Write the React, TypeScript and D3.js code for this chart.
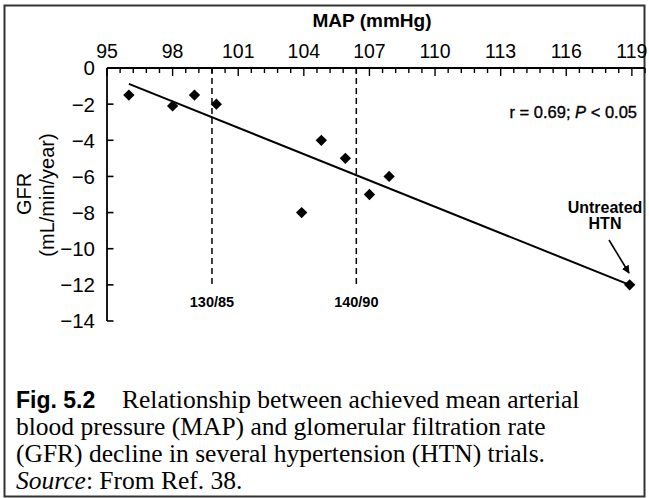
import React from "react";
import * as d3 from "d3";

// ---- data ----
const mapValues = [96, 98, 99, 100, 103.9, 104.8, 105.9, 107, 107.9, 118.9];
const gfrValues = [-1.5, -2.1, -1.5, -2, -8, -4, -5, -7, -6, -12];
const xTickLabels = [95, 98, 101, 104, 107, 110, 113, 116, 119];
const yTickLabels = [0, -2, -4, -6, -8, -10, -12, -14];
const thresholdLabels = ["130/85", "140/90"];
const thresholdMap = [99.8, 106.4];
const regressionMap = [96, 118.9];
const regressionGfr = [-0.88, -12.0];

const W = 649;
const H = 498;

export default function App() {
  const x = d3.scaleLinear().domain([95, 119.6]).range([107, 645]);
  const y = d3.scaleLinear().domain([0, -14]).range([68, 321]);
  const minor = d3.range(0, 42).map((i) => 95 + i * 0.6);
  const sans = "'Liberation Sans', Arial, Helvetica, sans-serif";
  const serif = "'Liberation Serif', 'Times New Roman', serif";
  const diamond = d3.symbol().type(d3.symbolSquare).size(64)() as string;
  const line = d3
    .line<number>()
    .x((_, i) => x(regressionMap[i]))
    .y((d) => y(d));

  return (
    <svg
      width={W}
      height={H}
      style={{ position: "absolute", left: 0, top: 0, background: "#fff" }}
    >
      <defs>
        <marker
          id="ah"
          viewBox="0 0 10 10"
          refX="9"
          refY="5"
          markerWidth="5"
          markerHeight="5"
          orient="auto"
        >
          <path d="M0,0 L10,5 L0,10 z" fill="#000" />
        </marker>
      </defs>
      <rect x={4.5} y={5.5} width={640} height={491} fill="none" stroke="#333" strokeWidth={2} />

      {/* top axis */}
      <text x={372} y={27} textAnchor="middle" fontFamily={sans} fontWeight="bold" fontSize={19}>
        MAP (mmHg)
      </text>
      <line x1={x(95)} x2={x(119.6)} y1={y(0)} y2={y(0)} stroke="#000" strokeWidth={1.8} />
      {minor.map((v, i) => (
        <line
          key={i}
          x1={x(v)}
          x2={x(v)}
          y1={y(0)}
          y2={y(0) + (i % 5 === 0 ? 8 : 5)}
          stroke="#000"
          strokeWidth={1.4}
        />
      ))}
      {xTickLabels.map((v) => (
        <text key={v} x={x(v)} y={58} textAnchor="middle" fontFamily={sans} fontSize={19.5}>
          {v}
        </text>
      ))}

      {/* left axis */}
      <line x1={x(95)} x2={x(95)} y1={y(0)} y2={y(-14)} stroke="#000" strokeWidth={1.8} />
      {yTickLabels.map((v) => (
        <g key={v}>
          {v !== 0 && (
            <line x1={x(95)} x2={x(95) + 6.5} y1={y(v)} y2={y(v)} stroke="#000" strokeWidth={1.6} />
          )}
          <text
            x={95}
            y={y(v)}
            dy="0.36em"
            textAnchor="end"
            fontFamily={sans}
            fontSize={20.5}
          >
            {v === 0 ? "0" : "\u2212" + Math.abs(v)}
          </text>
        </g>
      ))}
      <text
        transform="translate(31,194) rotate(-90)"
        textAnchor="middle"
        fontFamily={sans}
        fontSize={20}
      >
        GFR
      </text>
      <text
        transform="translate(54,195) rotate(-90)"
        textAnchor="middle"
        fontFamily={sans}
        fontSize={20}
      >
        (mL/min/year)
      </text>

      {/* thresholds */}
      {thresholdMap.map((v, i) => (
        <g key={i}>
          <line
            x1={x(v)}
            x2={x(v)}
            y1={y(0)}
            y2={y(-12)}
            stroke="#000"
            strokeWidth={1.5}
            strokeDasharray="6,4"
          />
          <text
            x={x(v)}
            y={307}
            textAnchor="middle"
            fontFamily={sans}
            fontWeight="bold"
            fontSize={14.5}
          >
            {thresholdLabels[i]}
          </text>
        </g>
      ))}

      {/* regression */}
      <path d={line(regressionGfr) as string} fill="none" stroke="#000" strokeWidth={2} />

      {/* points */}
      {mapValues.map((v, i) => (
        <path
          key={i}
          d={diamond}
          transform={`translate(${x(v)},${y(gfrValues[i])}) rotate(45)`}
          fill="#000"
        />
      ))}

      <text
        x={637}
        y={118}
        textAnchor="end"
        fontFamily={sans}
        fontSize={16.5}
        stroke="#000"
        strokeWidth={0.35}
      >
        r = 0.69; <tspan fontStyle="italic">P</tspan> &lt; 0.05
      </text>

      <text x={605} y={213} textAnchor="middle" fontFamily={sans} fontWeight="bold" fontSize={16}>
        Untreated
      </text>
      <text x={605} y={229} textAnchor="middle" fontFamily={sans} fontWeight="bold" fontSize={16}>
        HTN
      </text>
      <line x1={609} y1={240} x2={629} y2={273} stroke="#000" strokeWidth={1.6} markerEnd="url(#ah)" />

      {/* caption */}
      <text x={16} y={408} fontFamily={serif} fontSize={25.5}>
        <tspan fontFamily={sans} fontWeight="bold" fontSize={23}>
          Fig. 5.2
        </tspan>
        <tspan x={122}>Relationship between achieved mean arterial</tspan>
      </text>
      <text x={16} y={435} fontFamily={serif} fontSize={25.5}>
        blood pressure (MAP) and glomerular filtration rate
      </text>
      <text x={16} y={462} fontFamily={serif} fontSize={25.5}>
        (GFR) decline in several hypertension (HTN) trials.
      </text>
      <text x={16} y={489} fontFamily={serif} fontSize={25.5}>
        <tspan fontStyle="italic">Source</tspan>: From Ref. 38.
      </text>
    </svg>
  );
}
